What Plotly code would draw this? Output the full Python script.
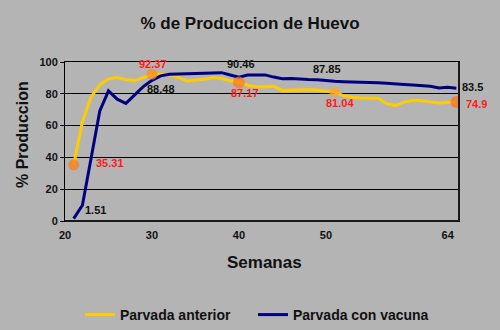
import plotly.graph_objects as go

# Weekly egg production (%) for two flocks
semanas = list(range(21, 66))
parvada_anterior = [
    35.31, 62.5, 78.0, 85.6, 89.4, 90.2, 88.8, 88.3, 90.2, 92.37,
    92.3, 91.8, 90.5, 88.0, 88.6, 89.2, 90.3, 89.6, 88.2, 87.17,
    85.4, 84.3, 84.5, 84.8, 82.0, 82.2, 82.4, 82.6, 82.3, 81.8,
    81.04, 78.9, 77.8, 77.4, 77.2, 77.2, 73.8, 72.6, 74.8, 76.0,
    75.6, 75.0, 74.2, 74.6, 74.9,
]
parvada_vacuna = [
    1.51, 9.9, 39.5, 69.2, 81.8, 76.6, 74.0, 79.5, 84.5, 88.48,
    91.3, 92.3, 92.5, 92.8, 93.1, 93.2, 93.4, 93.3, 91.8, 90.46,
    91.8, 92.0, 91.9, 90.5, 89.5, 89.6, 89.2, 89.0, 88.9, 88.2,
    87.85, 87.6, 87.5, 87.4, 87.2, 86.9, 86.6, 86.1, 85.9, 85.6,
    85.2, 84.8, 83.6, 84.1, 83.5,
]
x_ticks = [20, 30, 40, 50, 64]
y_ticks = [0, 20, 40, 60, 80, 100]

# Highlighted weeks on the previous flock (orange dots, red labels)
semanas_marcadas = [21, 30, 40, 51, 65]
colores_marcas = ["#FF7A12", "#FF8A1A", "#FF7A12", "#FFA21E", "#FF7010"]
tamanos_marcas = [11, 11, 12, 10, 12]
# label offsets (px) for the highlighted previous-flock values
offs_anterior = [(36, 2), (1, 10), (6, -11), (5, -11), (20, -2)]
# labelled weeks on the vaccinated flock (black labels)
semanas_vacuna = [21, 30, 40, 51, 65]
offs_vacuna = [(22, 9), (9, -9), (2, 13), (-8, 12), (16, 1)]

BG = "#B4B4B4"
FONT = "Liberation Sans, Arial, sans-serif"

# figure / plot-area geometry in pixels
W, H = 500, 330
ML, MR, MT, MB = 65, 41, 62, 109
PW, PH = W - ML - MR, H - MT - MB


def px_to_paper(px, py):
    return (px - ML) / PW, (H - MB - py) / PH


fig = go.Figure()
fig.add_trace(go.Scatter(
    x=semanas, y=parvada_anterior, mode="lines", name="Parvada anterior",
    line=dict(color="#FFCC00", width=3), legend="legend",
))
fig.add_trace(go.Scatter(
    x=semanas, y=parvada_vacuna, mode="lines", name="Parvada con vacuna",
    line=dict(color="#000080", width=3), legend="legend2",
))
ya = [parvada_anterior[semanas.index(s)] for s in semanas_marcadas]
fig.add_trace(go.Scatter(
    x=semanas_marcadas, y=ya, mode="markers", showlegend=False,
    marker=dict(color=colores_marcas, size=tamanos_marcas, line=dict(width=0)),
))

annotations = []
for s, (dx, dy) in zip(semanas_marcadas, offs_anterior):
    v = parvada_anterior[semanas.index(s)]
    annotations.append(dict(
        x=s, y=v, xref="x", yref="y", text=f"{v:g}", showarrow=False,
        xshift=dx, yshift=dy,
        font=dict(family=FONT, size=11, color="#FF1A1A", weight="bold"),
    ))
for s, (dx, dy) in zip(semanas_vacuna, offs_vacuna):
    v = parvada_vacuna[semanas.index(s)]
    annotations.append(dict(
        x=s, y=v, xref="x", yref="y", text=f"{v:g}", showarrow=False,
        xshift=dx, yshift=dy,
        font=dict(family=FONT, size=11, color="#111111", weight="bold"),
    ))
# axis titles
ax_, ay_ = px_to_paper(22, 135)
annotations.append(dict(
    x=ax_, y=ay_, xref="paper", yref="paper",
    text="% Produccion", textangle=-90, showarrow=False,
    xanchor="center", yanchor="middle",
    font=dict(family=FONT, size=16, color="#111111", weight="bold"),
))
bx_, by_ = px_to_paper(264, 262)
annotations.append(dict(
    x=bx_, y=by_, xref="paper", yref="paper",
    text="Semanas", showarrow=False, xanchor="center", yanchor="middle",
    font=dict(family=FONT, size=17, color="#111111", weight="bold"),
))
fig.update_layout(annotations=annotations)

# darker right / bottom frame edges
fig.add_shape(type="line", xref="x domain", yref="y domain",
              x0=1, x1=1, y0=0, y1=1, line=dict(color="#1a1a1a", width=2))
fig.add_shape(type="line", xref="x domain", yref="y domain",
              x0=0, x1=1, y0=0, y1=0, line=dict(color="#1a1a1a", width=2))

legend_style = dict(
    orientation="h", xanchor="left", xref="container",
    y=1 - 315 / H, yanchor="middle", yref="container",
    itemwidth=30, bgcolor="rgba(0,0,0,0)",
    font=dict(family=FONT, size=14, color="#111111", weight="bold"),
)

fig.update_layout(
    width=W, height=H,
    margin=dict(l=ML, r=MR, t=MT, b=MB),
    paper_bgcolor=BG, plot_bgcolor=BG,
    title=dict(text="% de Produccion de Huevo", x=0.5, xanchor="center",
               y=1 - 23 / H, yanchor="middle",
               font=dict(family=FONT, size=17, color="#111111", weight="bold")),
    xaxis=dict(range=[20, 65.3], tickvals=x_ticks, showgrid=False,
               zeroline=False, showline=True, linecolor="black", linewidth=1,
               mirror=True, ticks="", ticklabelstandoff=4,
               tickfont=dict(family=FONT, size=11, color="#111111", weight="bold")),
    yaxis=dict(range=[0, 100], tickvals=y_ticks, showgrid=True,
               gridcolor="black", gridwidth=1, zeroline=False,
               showline=True, linecolor="black", linewidth=1, mirror=True,
               ticks="outside", ticklen=4, tickcolor="black",
               tickfont=dict(family=FONT, size=11, color="#111111", weight="bold")),
    legend=dict(x=80 / W, **legend_style),
    legend2=dict(x=253 / W, **legend_style),
    showlegend=True,
)

fig.write_html("out.html")
